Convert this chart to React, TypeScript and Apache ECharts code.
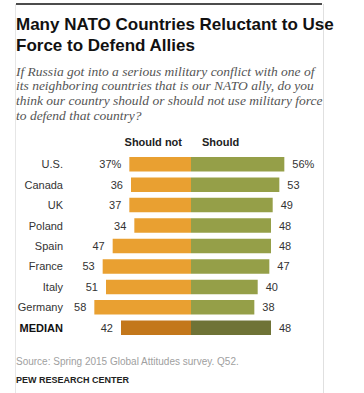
import React, { useEffect, useRef } from "react";
import * as echarts from "echarts";

const countries = ["U.S.", "Canada", "UK", "Poland", "Spain", "France", "Italy", "Germany", "MEDIAN"];
const shouldNot = [37, 36, 37, 34, 47, 53, 51, 58, 42];
const should = [56, 53, 49, 48, 48, 47, 40, 38, 48];

const titleLines = ["Many NATO Countries Reluctant to Use", "Force to Defend Allies"];
const subtitleLines = [
  "If Russia got into a serious military conflict with one of",
  "its neighboring countries that is our NATO ally, do you",
  "think our country should or should not use military force",
  "to defend that country?",
];

const ORANGE = "#E9A031";
const GREEN = "#959F48";
const ORANGE_DARK = "#C3771B";
const GREEN_DARK = "#6F7336";

export default function App() {
  const ref = useRef<HTMLDivElement>(null);
  useEffect(() => {
    document.body.style.margin = "0";
    const chart = echarts.init(ref.current!, null, { renderer: "svg" });
    const last = countries.length - 1;
    const sans = "'Liberation Sans', Arial, sans-serif";
    const graphics: any[] = [
      { type: "line", shape: { x1: 16, y1: 4, x2: 322, y2: 4 }, style: { stroke: "#111", lineWidth: 1.5 } },
      { type: "line", shape: { x1: 15.5, y1: 4, x2: 15.5, y2: 393 }, style: { stroke: "#e6e6e6", lineWidth: 1 } },
      { type: "line", shape: { x1: 323.5, y1: 4, x2: 323.5, y2: 393 }, style: { stroke: "#e0e0e0", lineWidth: 1 } },
    ];
    titleLines.forEach((t, i) => {
      graphics.push({
        type: "text", x: 16, y: 24.5 + i * 21,
        style: { text: t, fill: "#111", font: `bold 17px ${sans}`, textVerticalAlign: "middle" },
      });
    });
    subtitleLines.forEach((t, i) => {
      graphics.push({
        type: "text", x: 16, y: 71 + i * 14.7,
        style: { text: t, fill: "#555", font: `italic 13.5px 'Liberation Serif', serif`, textVerticalAlign: "middle" },
      });
    });
    graphics.push(
      { type: "text", x: 182, y: 142, style: { text: "Should not", fill: "#222", font: `bold 11px ${sans}`, textAlign: "right", textVerticalAlign: "middle" } },
      { type: "text", x: 202, y: 142, style: { text: "Should", fill: "#222", font: `bold 11px ${sans}`, textAlign: "left", textVerticalAlign: "middle" } },
      { type: "text", x: 16, y: 361, style: { text: "Source: Spring 2015 Global Attitudes survey. Q52.", fill: "#a0a0a0", font: `10px ${sans}`, textVerticalAlign: "middle" } },
      { type: "text", x: 16, y: 380, style: { text: "PEW RESEARCH CENTER", fill: "#222", font: `bold 9px ${sans}`, textVerticalAlign: "middle" } },
    );

    chart.setOption({
      animation: false,
      backgroundColor: "#fff",
      grid: { left: 91, width: 200, top: 154, height: 184 },
      xAxis: { type: "value", min: -60, max: 60, show: false },
      yAxis: {
        type: "category", data: countries, inverse: true,
        axisLine: { show: false }, axisTick: { show: false },
        axisLabel: {
          margin: 28, color: "#333", fontSize: 11, fontFamily: sans,
          formatter: (v: string) => (v === "MEDIAN" ? `{b|${v}}` : v),
          rich: { b: { fontWeight: "bold", color: "#111", fontSize: 11, fontFamily: sans } },
        },
      },
      series: [
        {
          type: "bar", stack: "a", barWidth: 14.5,
          data: shouldNot.map((v, i) => ({ value: -v, itemStyle: { color: i === last ? ORANGE_DARK : ORANGE } })),
          label: {
            show: true, position: "left", distance: 8, color: "#333", fontSize: 11, fontFamily: sans,
            formatter: (p: any) => `${-p.value}${p.dataIndex === 0 ? "%" : ""}`,
          },
        },
        {
          type: "bar", stack: "a", barWidth: 14.5,
          data: should.map((v, i) => ({ value: v, itemStyle: { color: i === last ? GREEN_DARK : GREEN } })),
          label: {
            show: true, position: "right", distance: 8, color: "#333", fontSize: 11, fontFamily: sans,
            formatter: (p: any) => `${p.value}${p.dataIndex === 0 ? "%" : ""}`,
          },
        },
      ],
      graphic: graphics,
    });
    return () => chart.dispose();
  }, []);
  return <div ref={ref} style={{ width: 364, height: 393 }} />;
}
